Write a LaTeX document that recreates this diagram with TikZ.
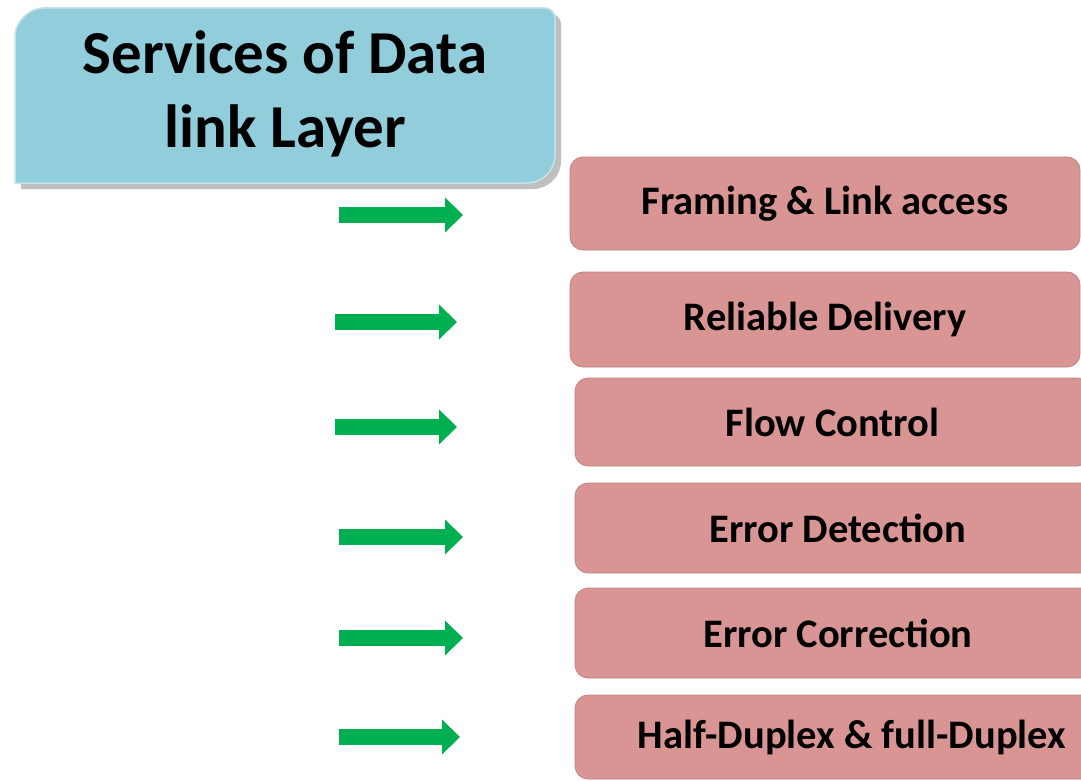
\documentclass[tikz,border=0pt]{standalone}
\usepackage{fontspec}
\setmainfont{Carlito}
\usetikzlibrary{positioning}
\usetikzlibrary{arrows.meta}

\definecolor{titleblue}{RGB}{146,205,220}
\definecolor{boxpink}{RGB}{217,149,148}
\definecolor{arrowgreen}{RGB}{0,176,80}

\tikzset{
  svcbox/.style={fill=boxpink, draw=boxpink!88!black, line width=0.8pt, rounded corners=13pt, inner sep=0pt, font=\fontsize{40.5}{46}\selectfont\bfseries},
  titletext/.style={align=center, inner sep=0pt, font=\fontsize{61}{74}\selectfont\bfseries},
  greenarrow/.style={draw=arrowgreen, line width=16pt, -{Triangle[length=18pt,width=34pt]}}
}

\newcommand{\titleshape}{(15,36) .. controls (15,20.5) and (30.5,8) .. (43,8) -- (545,8) .. controls (550.5,8) and (555,12.5) .. (555,18) -- (555,155) .. controls (555,170.5) and (542.5,183) .. (527,183) -- (15,183) -- cycle}

\begin{document}
\begin{tikzpicture}[x=1pt,y=-1pt]
\useasboundingbox (0,0) rectangle (1081,781);
\fill[white] (0,0) rectangle (1081,781);

% title
\fill[black!45,opacity=0.55,shift={(6,6)}] \titleshape;
\filldraw[fill=titleblue,draw=titleblue!55!white,line width=1.5pt] \titleshape;
\node[titletext](title) at (285,94){Services of Data\\link Layer};

% services
\node[svcbox,minimum width=510pt,minimum height=93pt](framing) at (825,203.5){Framing \& Link access};
\node[svcbox,minimum width=510pt,minimum height=95pt](reliable) at (825,319.5){Reliable Delivery};
\node[svcbox,minimum width=515pt,minimum height=88pt](flow) at (832.5,422){Flow Control};
\node[svcbox,minimum width=526pt,minimum height=90pt](detect) at (838,528){Error Detection};
\node[svcbox,minimum width=526pt,minimum height=90pt](correct) at (838,633){Error Correction};
\node[svcbox,minimum width=554pt,minimum height=84pt](duplex) at (852,737){Half-Duplex \& full-Duplex};

\coordinate(startF) at (339,215);
\coordinate(endF) at (463,215);
\coordinate(startR) at (335,322);
\coordinate(endR) at (457,322);
\coordinate(startC) at (335,427);
\coordinate(endC) at (457,427);
\coordinate(startD) at (339,537);
\coordinate(endD) at (463,537);
\coordinate(startE) at (339,638);
\coordinate(endE) at (463,638);
\coordinate(startH) at (339,737);
\coordinate(endH) at (460,737);

\path
(startF) edge[greenarrow] (endF)
(startR) edge[greenarrow] (endR)
(startC) edge[greenarrow] (endC)
(startD) edge[greenarrow] (endD)
(startE) edge[greenarrow] (endE)
(startH) edge[greenarrow] (endH);
\end{tikzpicture}
\end{document}
